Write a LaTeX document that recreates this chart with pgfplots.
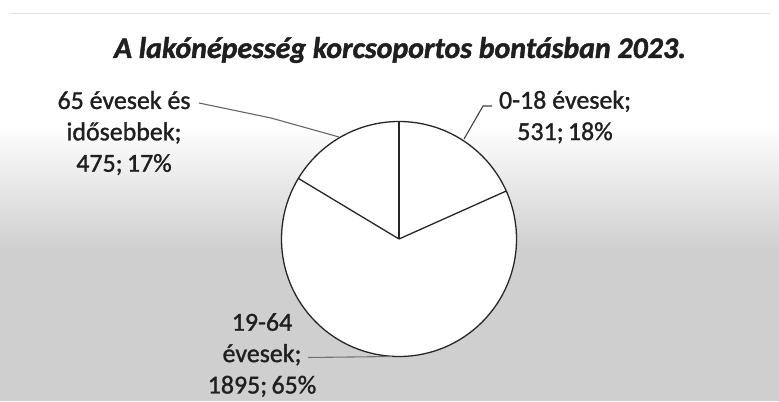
\documentclass[border=0pt]{standalone}
\usepackage{pgfplots}
\pgfplotsset{compat=1.18}
\usepackage{fontspec}
\setmainfont{Carlito}
\newfontfamily\labfont{Carlito}[FakeBold=1.2]
\newfontfamily\titfont{Carlito}[BoldFont=*-Bold, BoldItalicFont=*-Bold Italic, BoldItalicFeatures={FakeBold=1.5}]
\definecolor{bggrey}{HTML}{CFCFCF}
\definecolor{txt}{HTML}{1F1F1F}
% data: 0-18, 19-64, 65+
\def\va{531}
\def\vb{1895}
\def\vc{475}
\pgfmathsetmacro{\tot}{\va+\vb+\vc}
\pgfmathsetmacro{\aA}{90}
\pgfmathsetmacro{\aB}{90-\va/\tot*360}
\pgfmathsetmacro{\aC}{\aB-\vb/\tot*360+360}
\begin{document}
\begin{tikzpicture}[x=1bp,y=1bp]
\useasboundingbox (0,0) rectangle (779,401);
% background
\fill[white] (0,0) rectangle (779,401);
\shade[top color=white, bottom color=bggrey] (0,151) rectangle (779,276);
\fill[bggrey] (0,0) rectangle (779,151.5);
\draw[black!12, line width=0.8pt] (10,388) -- (770,388);
\begin{axis}[
  at={(0,0)}, anchor=south west,
  scale only axis, width=779bp, height=401bp,
  xmin=0, xmax=779, ymin=0, ymax=401,
  hide axis, clip=false]
% pie
\fill[white] (axis cs:399,162) circle[radius=117.5bp];
\draw[black!85, line width=1.3pt] (axis cs:399,162) circle[radius=117.5bp];
\draw[black!85, line width=1.3pt] (axis cs:399,162) -- ++(\aA:117.5bp);
\draw[black!85, line width=1.3pt] (axis cs:399,162) -- ++(\aB:117.5bp);
\draw[black!85, line width=1.3pt] (axis cs:399,162) -- ++(\aC:117.5bp);
% leader lines
\draw[black!60, line width=1.1pt] (axis cs:199,298) -- (axis cs:271,283) -- (axis cs:339,264);
\draw[black!75, line width=1.1pt] (axis cs:492,295) -- (axis cs:483,295) -- (axis cs:464,262);
\draw[black!55, line width=1.1pt] (axis cs:308,43.5) -- (axis cs:392,44.5);
% title
\node[font={\titfont\fontsize{30}{36}\selectfont\bfseries\itshape}, text=txt] at (axis cs:400,351) {A lakónépesség korcsoportos bontásban 2023.};
% labels
\node[align=center, font={\labfont\fontsize{26}{31.5}\selectfont}, text=txt] at (axis cs:124,268) {65 évesek és\\idősebbek;\\475;\,17\%};
\node[align=center, font={\labfont\fontsize{26}{31.5}\selectfont}, text=txt] at (axis cs:565,284) {0-18 évesek;\\531;\,18\%};
\node[align=center, font={\labfont\fontsize{26}{31.5}\selectfont}, text=txt] at (axis cs:262,46) {19-64\\évesek;\\1895;\,65\%};
\end{axis}
\end{tikzpicture}
\end{document}
